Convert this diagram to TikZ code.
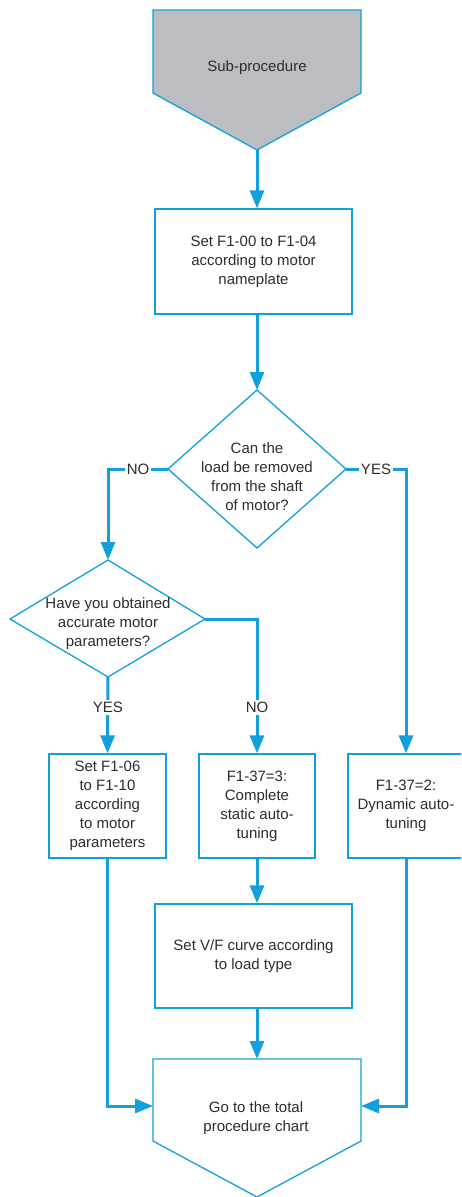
\documentclass[tikz,border=0pt]{standalone}
\usepackage{fontspec}
\setmainfont{Liberation Sans}
\usetikzlibrary{arrows.meta}
\definecolor{flowblue}{RGB}{18,160,220}
\definecolor{subgray}{RGB}{188,189,192}
\definecolor{txtgray}{RGB}{45,45,45}
\begin{document}
\begin{tikzpicture}[x=1pt,y=-1pt,
  every node/.style={font=\fontsize{15}{19}\selectfont, text=txtgray},
  outline/.style={draw=flowblue, line width=1.3pt, line join=miter},
  box/.style={outline, rectangle, inner sep=0pt, align=center},
  conn/.style={draw=flowblue, line width=3pt, -{Triangle[length=18pt,width=14pt]}},
  lbl/.style={fill=white, inner sep=2pt},
  txtnode/.style={align=center, inner sep=0pt}]
\clip (0,0) rectangle (461,1197);
\fill[white] (0,0) rectangle (461,1197);

% top pentagon
\coordinate (spB) at (257,150);
\filldraw[outline, fill=subgray] (153,10) -- (361,10) -- (361,93) -- (spB) -- (153,93) -- cycle;
\node[txtnode] (sp) at (257,68) {Sub-procedure};

% box 1
\node[box, minimum width=197pt, minimum height=105pt] (b1) at (253.5,261.5)
  {Set F1-00 to F1-04\\according to motor\\nameplate};

% diamond 1
\coordinate (d1t) at (257,390);
\coordinate (d1r) at (346,469);
\coordinate (d1b) at (257,548);
\coordinate (d1l) at (168,469);
\draw[outline] (d1t) -- (d1r) -- (d1b) -- (d1l) -- cycle;
\node[txtnode] (d1) at (257,477) {Can the\\load be removed\\from the shaft\\of motor?};

% diamond 2
\coordinate (d2t) at (108,560);
\coordinate (d2r) at (205,619);
\coordinate (d2b) at (108,677);
\coordinate (d2l) at (10,619);
\draw[outline] (d2t) -- (d2r) -- (d2b) -- (d2l) -- cycle;
\node[txtnode] (d2) at (108,624) {Have you obtained\\accurate motor\\parameters?};

% row of boxes
\node[box, minimum width=117pt, minimum height=104pt] (bA) at (107.5,806)
  {Set F1-06\\to F1-10\\according\\to motor\\parameters};
\node[box, minimum width=116pt, minimum height=104pt] (bB) at (257,806)
  {F1-37=3:\\Complete\\static auto-\\tuning};
\node[box, minimum width=116pt, minimum height=104pt] (bC) at (406,806)
  {F1-37=2:\\Dynamic auto-\\tuning};

% V/F box
\node[box, minimum width=197pt, minimum height=104pt] (vf) at (253.5,956)
  {Set V/F curve according\\to load type};

% final pentagon
\coordinate (finT) at (257,1059);
\coordinate (finL) at (153,1106);
\coordinate (finR) at (361,1106);
\draw[outline] (153,1059) -- (361,1059) -- (361,1141) -- (257,1197) -- (153,1141) -- cycle;
\node[txtnode] (fin) at (256,1118.5) {Go to the total\\procedure chart};

% connectors
\draw[conn] (spB) -- (spB |- b1.north);
\draw[conn] (d1t |- b1.south) -- (d1t);
\draw[conn] (d1l) -| node[lbl, pos=0.25] {NO} (d2t);
\draw[conn] (d1r) -| node[lbl, pos=0.25] {YES} (bC.north);
\draw[conn] (d2b) -- node[lbl, pos=0.4] {YES} (bA.north);
\draw[conn] (d2r) -| node[lbl, pos=0.83] {NO} (bB.north);
\draw[conn] (bB.south) -- (bB.south |- vf.north);
\draw[conn] (vf.south -| finT) -- (finT);
\draw[conn] (bA.south) |- (finL);
\draw[conn] (bC.south) |- (finR);
\end{tikzpicture}
\end{document}
